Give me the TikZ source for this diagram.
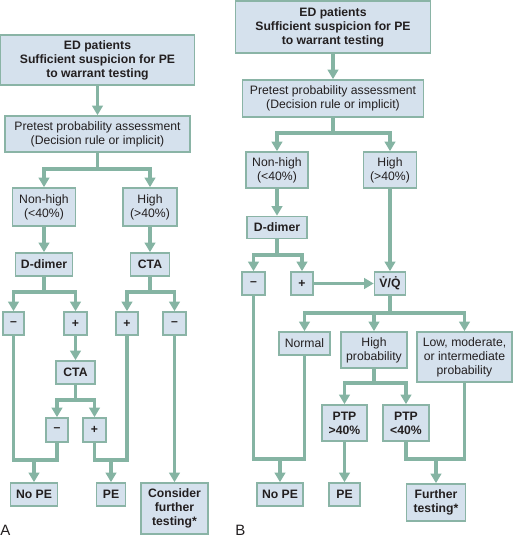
\documentclass[tikz,border=0pt]{standalone}
\usepackage{fontspec}
\setmainfont{Liberation Sans}
\usetikzlibrary{arrows.meta}
\definecolor{boxc}{RGB}{213,225,237}
\definecolor{bordc}{RGB}{138,180,166}
\definecolor{linec}{RGB}{133,180,163}
\definecolor{txtc}{RGB}{35,31,32}
\tikzset{
  box/.style={draw=bordc, fill=boxc, line width=1.6pt, inner sep=0pt, align=center, text=txtc, font=\fontsize{12.2}{14}\selectfont},
  bbox/.style={box, font=\bfseries\fontsize{12.2}{14}\selectfont},
  conn/.style={draw=linec, line width=3.8pt},
  arr/.style={conn, -{Triangle[length=9.5pt,width=10.5pt]}},
  plabel/.style={text=txtc, inner sep=0pt, font=\fontsize{15}{15}\selectfont}
}
\begin{document}
\begin{tikzpicture}[x=1pt,y=-1pt]
\useasboundingbox (0,0) rectangle (514,539);
% ---------- Panel A ----------
\node[bbox, minimum width=194pt, minimum height=50pt] (edA) at (97.5,60) {ED patients\\Sufficient suspicion for PE\\to warrant testing};
\node[box, minimum width=185pt, minimum height=36pt] (preA) at (97.5,134) {Pretest probability assessment\\(Decision rule or implicit)};
\node[box, minimum width=63pt, minimum height=38pt] (nhA) at (44,207) {Non-high\\(<40\%)};
\node[box, minimum width=54pt, minimum height=38pt] (hiA) at (150,207) {High\\(>40\%)};
\node[bbox, minimum width=57pt, minimum height=23pt] (ddA) at (44,264.5) {D-dimer};
\node[bbox, minimum width=39pt, minimum height=23pt] (ctaA) at (150,264.5) {CTA};
\node[bbox, minimum width=21pt, minimum height=23pt] (mA) at (13.5,323.5) {–};
\node[bbox, minimum width=23pt, minimum height=23pt] (pA) at (75.5,323.5) {+};
\node[bbox, minimum width=22pt, minimum height=23pt] (pA2) at (127,323.5) {+};
\node[bbox, minimum width=23pt, minimum height=23pt] (mA2) at (174.5,323.5) {–};
\node[bbox, minimum width=39pt, minimum height=23pt] (cta2A) at (75.5,372.5) {CTA};
\node[bbox, minimum width=22pt, minimum height=24pt] (m3A) at (57,430) {–};
\node[bbox, minimum width=23pt, minimum height=24pt] (p3A) at (94.5,430) {+};
\node[bbox, minimum width=47pt, minimum height=23pt] (noA) at (34,494.5) {No PE};
\node[bbox, minimum width=29pt, minimum height=23pt] (peA) at (111,494.5) {PE};
\node[bbox, minimum width=67pt, minimum height=51pt] (consA) at (174.5,508.5) {Consider\\further\\testing*};
\node[plabel] (labA) at (5.5,530) {A};

\coordinate (sA1) at (97.5,169);
\coordinate (sA2) at (44,292);
\coordinate (sA3) at (150,292);
\coordinate (sA4) at (75.5,400);
\coordinate (jA1) at (34,460);
\coordinate (jA2) at (111,460);

\draw[arr] (edA.south) -- (preA.north);
\draw[conn] (preA.south) -- (sA1);
\draw[arr] (sA1) -| (nhA.north);
\draw[arr] (sA1) -| (hiA.north);
\draw[arr] (nhA.south) -- (ddA.north);
\draw[arr] (hiA.south) -- (ctaA.north);
\draw[conn] (ddA.south) -- (sA2);
\draw[arr] (sA2) -| (mA.north);
\draw[arr] (sA2) -| (pA.north);
\draw[conn] (ctaA.south) -- (sA3);
\draw[arr] (sA3) -| (pA2.north);
\draw[arr] (sA3) -| (mA2.north);
\draw[arr] (pA.south) -- (cta2A.north);
\draw[conn] (cta2A.south) -- (sA4);
\draw[arr] (sA4) -| (m3A.north);
\draw[arr] (sA4) -| (p3A.north);
\draw[conn] (mA.south) |- (jA1);
\draw[conn] (m3A.south) |- (jA1);
\draw[arr] (jA1) -- (noA.north);
\draw[conn] (pA2.south) |- (jA2);
\draw[conn] (p3A.south) |- (jA2);
\draw[arr] (jA2) -- (peA.north);
\draw[arr] (mA2.south) -- (consA.north);

% ---------- Panel B ----------
\node[bbox, minimum width=195pt, minimum height=52pt] (edB) at (333,27) {ED patients\\Sufficient suspicion for PE\\to warrant testing};
\node[box, minimum width=181pt, minimum height=37pt] (preB) at (333,98.5) {Pretest probability assessment\\(Decision rule or implicit)};
\node[box, minimum width=62pt, minimum height=36pt] (nhB) at (277,170) {Non-high\\(<40\%)};
\node[box, minimum width=53pt, minimum height=36pt] (hiB) at (390,170) {High\\(>40\%)};
\node[bbox, minimum width=60pt, minimum height=22pt] (ddB) at (277,227.5) {D-dimer};
\node[bbox, minimum width=23pt, minimum height=23pt] (mB) at (253.5,283.5) {–};
\node[bbox, minimum width=22pt, minimum height=23pt] (pB) at (302,283.5) {+};
\node[bbox, minimum width=31pt, minimum height=23pt] (vqB) at (390,283.5) {\.{V}/\.{Q}};
\node[box, minimum width=51pt, minimum height=23pt] (normB) at (304.5,343.5) {Normal};
\node[box, minimum width=66pt, minimum height=36pt] (hpB) at (374,350) {High\\probability};
\node[box, minimum width=95pt, minimum height=50pt] (lmB) at (464.5,357) {Low, moderate,\\or intermediate\\probability};
\node[bbox, minimum width=45pt, minimum height=36pt] (ptp1) at (344.5,423) {PTP\\>40\%};
\node[bbox, minimum width=46pt, minimum height=36pt] (ptp2) at (406,423) {PTP\\<40\%};
\node[bbox, minimum width=46pt, minimum height=23pt] (noB) at (280,494.5) {No PE};
\node[bbox, minimum width=31pt, minimum height=23pt] (peB) at (344.5,494.5) {PE};
\node[bbox, minimum width=59pt, minimum height=37pt] (ftB) at (436,502.5) {Further\\testing*};
\node[plabel] (labB) at (240.5,530) {B};

\coordinate (sB1) at (333,133);
\coordinate (sB2) at (277,255);
\coordinate (sB3) at (390,313);
\coordinate (sB4) at (374,383);
\coordinate (jB1) at (280,459);
\coordinate (jB2) at (436,459);

\draw[arr] (edB.south) -- (preB.north);
\draw[conn] (preB.south) -- (sB1);
\draw[arr] (sB1) -| (nhB.north);
\draw[arr] (sB1) -| (hiB.north);
\draw[arr] (nhB.south) -- (ddB.north);
\draw[conn] (ddB.south) -- (sB2);
\draw[arr] (sB2) -| (mB.north);
\draw[arr] (sB2) -| (pB.north);
\draw[arr] (pB.east) -- (vqB.west);
\draw[arr] (hiB.south) -- (vqB.north);
\draw[conn] (vqB.south) -- (sB3);
\draw[arr] (sB3) -| (normB.north);
\draw[arr] (sB3) -| (lmB.north);
\draw[arr] (hpB.north |- sB3) -- (hpB.north);
\draw[conn] (hpB.south) -- (sB4);
\draw[arr] (sB4) -| (ptp1.north);
\draw[arr] (sB4) -| (ptp2.north);
\draw[conn] (mB.south) |- (jB1);
\draw[conn] (normB.south) |- (jB1);
\draw[arr] (jB1) -- (noB.north);
\draw[arr] (ptp1.south) -- (peB.north);
\draw[conn] (ptp2.south) |- (jB2);
\draw[conn] (lmB.south) |- (jB2);
\draw[arr] (jB2) -- (ftB.north);
\end{tikzpicture}
\end{document}
